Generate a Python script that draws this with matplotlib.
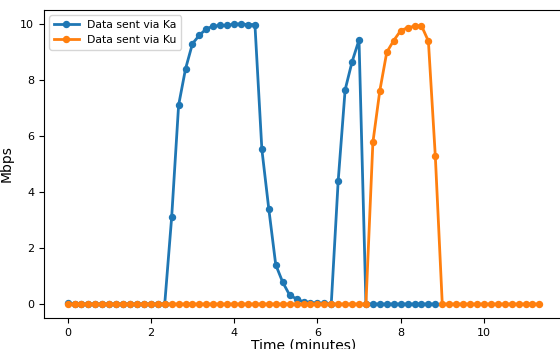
import numpy as np
import matplotlib
matplotlib.use("Agg")
import matplotlib.pyplot as plt

# ----- data: one sample every 10 s -----
SAMPLE_S = 10

ka_mbps = [
    0.05, 0, 0, 0, 0, 0, 0, 0, 0, 0, 0, 0, 0, 0, 0,
    3.1, 7.1, 8.4, 9.3, 9.6, 9.83, 9.92, 9.95, 9.95, 10.0, 10.0, 9.98, 9.98,
    5.52, 3.39, 1.4, 0.78, 0.32, 0.18, 0.08, 0.05, 0.03, 0.02, 0.0,
    4.4, 7.65, 8.65, 9.43,
    0, 0, 0, 0, 0, 0, 0, 0, 0, 0, 0,
]

ku_mbps = [0] * 44 + [
    5.77, 7.62, 8.99, 9.41, 9.76, 9.87, 9.92, 9.94, 9.39, 5.27,
] + [0] * 15

t_ka = np.arange(len(ka_mbps)) * SAMPLE_S / 60
t_ku = np.arange(len(ku_mbps)) * SAMPLE_S / 60

fig = plt.figure(figsize=(5.6, 3.49), dpi=100)
ax = fig.add_axes([44 / 560, 31 / 349, 519 / 560, 308 / 349])

ax.plot(t_ka, ka_mbps, marker="o", lw=2.0, ms=4.3, label="Data sent via Ka")
ax.plot(t_ku, ku_mbps, marker="o", lw=2.0, ms=4.3, label="Data sent via Ku")

ax.set_xlabel("Time (minutes)", fontsize=10, labelpad=0.5)
ax.set_ylabel("Mbps", fontsize=10, labelpad=5)
ax.tick_params(labelsize=8)
ax.legend(loc="upper left", fontsize=7.8, handlelength=2.3)

fig.savefig("out.png", dpi=100)
